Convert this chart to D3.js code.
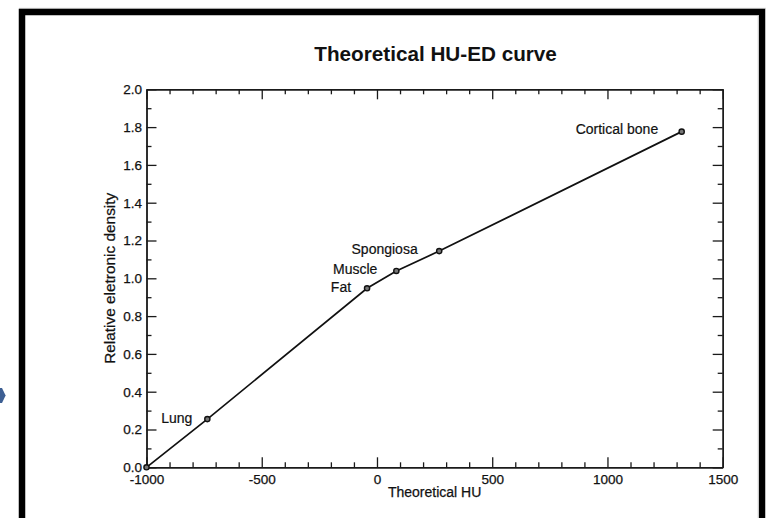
<!DOCTYPE html>
<html>
<head>
<meta charset="utf-8">
<script src="https://cdn.jsdelivr.net/npm/d3@7/dist/d3.min.js"></script>
<style>
  html, body { margin: 0; padding: 0; background: #fff; }
  svg { display: block; }
  text { font-family: "Liberation Sans", Arial, Helvetica, sans-serif; fill: #111; }
</style>
</head>
<body>
<svg id="chart" width="769" height="518"></svg>
<script>
// ---- data ----
const tissues = ["", "Lung", "Fat", "Muscle", "Spongiosa", "Cortical bone"];
const huValues = [-1000, -736, -43, 84, 270, 1322];
const edValues = [0.0, 0.255, 0.947, 1.039, 1.144, 1.776];
const xTickValues = [-1000, -500, 0, 500, 1000, 1500];
const xTickLabels = ["-1000", "-500", "0", "500", "1000", "1500"];
const yTickValues = [0.0, 0.2, 0.4, 0.6, 0.8, 1.0, 1.2, 1.4, 1.6, 1.8, 2.0];
const yTickLabels = ["0.0", "0.2", "0.4", "0.6", "0.8", "1.0", "1.2", "1.4", "1.6", "1.8", "2.0"];
const titleText = "Theoretical HU-ED curve";
const xTitle = "Theoretical HU";
const yTitle = "Relative eletronic density";

// ---- layout ----
const W = 769, H = 518;
const L = 146.5, R = 722.7, T = 89.3, B = 467.3;
const svg = d3.select("#chart");

// page decoration: frame and arrow
svg.append("line").attr("x1", 19).attr("x2", 766).attr("y1", 8.3).attr("y2", 8.3)
  .attr("stroke", "#d8d8d8").attr("stroke-width", 1);
svg.append("path")
  .attr("d", "M22,518 V12 H762 V518")
  .attr("fill", "none").attr("stroke", "#000").attr("stroke-width", 6.5);
svg.append("line").attr("x1", 758.2).attr("x2", 758.2).attr("y1", 15).attr("y2", H)
  .attr("stroke", "#cfcfcf").attr("stroke-width", 1);
svg.append("path")
  .attr("d", "M0,388 L2,388 L5.6,395.5 L2,403 L0,403 Z")
  .attr("fill", "#3d5f93");

const x = d3.scaleLinear().domain([-1000, 1500]).range([L, R]);
const y = d3.scaleLinear().domain([0, 2]).range([B, T]);

const xMinor = d3.range(-1000, 1501, 100).filter(v => v % 500 !== 0);
const yMinor = d3.range(0, 21, 1).map(v => v / 10).filter((v, i) => i % 2 === 1);

function styleAxis(g) {
  g.attr("font-size", null).attr("font-family", null);
  g.selectAll("path").attr("stroke", "#1a1a1a").attr("stroke-width", 1.4);
  g.selectAll("line").attr("stroke", "#1a1a1a").attr("stroke-width", 1.3);
  g.selectAll("text").attr("fill", "#111")
    .style("font-family", '"Liberation Sans", Arial, sans-serif').style("font-size", "13.5px")
    .style("stroke", "#111").style("stroke-width", "0.25px");
}

// bottom axis
const gB = svg.append("g").attr("transform", `translate(0,${B})`)
  .call(d3.axisBottom(x).tickValues(xTickValues).tickSize(-10).tickSizeOuter(0).tickPadding(7)
    .tickFormat((d, i) => xTickLabels[i]));
styleAxis(gB);
const gBm = svg.append("g").attr("transform", `translate(0,${B})`)
  .call(d3.axisBottom(x).tickValues(xMinor).tickSize(-5).tickSizeOuter(0).tickFormat(""));
styleAxis(gBm);

// top axis
const gT = svg.append("g").attr("transform", `translate(0,${T})`)
  .call(d3.axisTop(x).tickValues(xTickValues).tickSize(-10).tickSizeOuter(0).tickFormat(""));
styleAxis(gT);
const gTm = svg.append("g").attr("transform", `translate(0,${T})`)
  .call(d3.axisTop(x).tickValues(xMinor).tickSize(-5).tickSizeOuter(0).tickFormat(""));
styleAxis(gTm);

// left axis
const gL = svg.append("g").attr("transform", `translate(${L},0)`)
  .call(d3.axisLeft(y).tickValues(yTickValues).tickSize(-10).tickSizeOuter(0).tickPadding(4.5)
    .tickFormat((d, i) => yTickLabels[i]));
styleAxis(gL);
const gLm = svg.append("g").attr("transform", `translate(${L},0)`)
  .call(d3.axisLeft(y).tickValues(yMinor).tickSize(-5).tickSizeOuter(0).tickFormat(""));
styleAxis(gLm);

// right axis
const gR = svg.append("g").attr("transform", `translate(${R},0)`)
  .call(d3.axisRight(y).tickValues(yTickValues).tickSize(-10).tickSizeOuter(0).tickFormat(""));
styleAxis(gR);
const gRm = svg.append("g").attr("transform", `translate(${R},0)`)
  .call(d3.axisRight(y).tickValues(yMinor).tickSize(-5).tickSizeOuter(0).tickFormat(""));
styleAxis(gRm);

// title
svg.append("text").attr("x", (L + R) / 2 + 1).attr("y", 61)
  .attr("text-anchor", "middle").style("font-size", "20.7px").style("font-weight", "bold")
  .text(titleText);

// axis titles
svg.append("text").attr("x", (L + R) / 2).attr("y", 496.5)
  .attr("text-anchor", "middle").style("font-size", "14px")
  .style("stroke", "#111").style("stroke-width", "0.25px").text(xTitle);
svg.append("text").attr("transform", `translate(115,${(T + B) / 2}) rotate(-90)`)
  .attr("text-anchor", "middle").style("font-size", "15.4px")
  .style("stroke", "#111").style("stroke-width", "0.25px").text(yTitle);

// data
const pts = huValues.map((h, i) => ({ name: tissues[i], hu: h, ed: edValues[i] }));

svg.append("path").datum(pts)
  .attr("d", d3.line().x(d => x(d.hu)).y(d => y(d.ed)))
  .attr("fill", "none").attr("stroke", "#111").attr("stroke-width", 1.7);

svg.append("g").selectAll("circle").data(pts).join("circle")
  .attr("cx", d => x(d.hu)).attr("cy", d => y(d.ed)).attr("r", 2.6)
  .attr("fill", "#777").attr("stroke", "#111").attr("stroke-width", 1.4);

// label nudges (layout only)
const nudge = { "Lung": [-15, 3.7], "Fat": [-16, 3.4], "Muscle": [-19, 3.3],
  "Spongiosa": [-21.5, 3.3], "Cortical bone": [-23.5, 2.3] };
svg.append("g").selectAll("text").data(pts.filter(d => d.name)).join("text")
  .attr("x", d => x(d.hu) + nudge[d.name][0])
  .attr("y", d => y(d.ed) + nudge[d.name][1])
  .attr("text-anchor", "end").style("font-size", "14px")
  .style("stroke", "#111").style("stroke-width", "0.2px")
  .text(d => d.name);
</script>
</body>
</html>
